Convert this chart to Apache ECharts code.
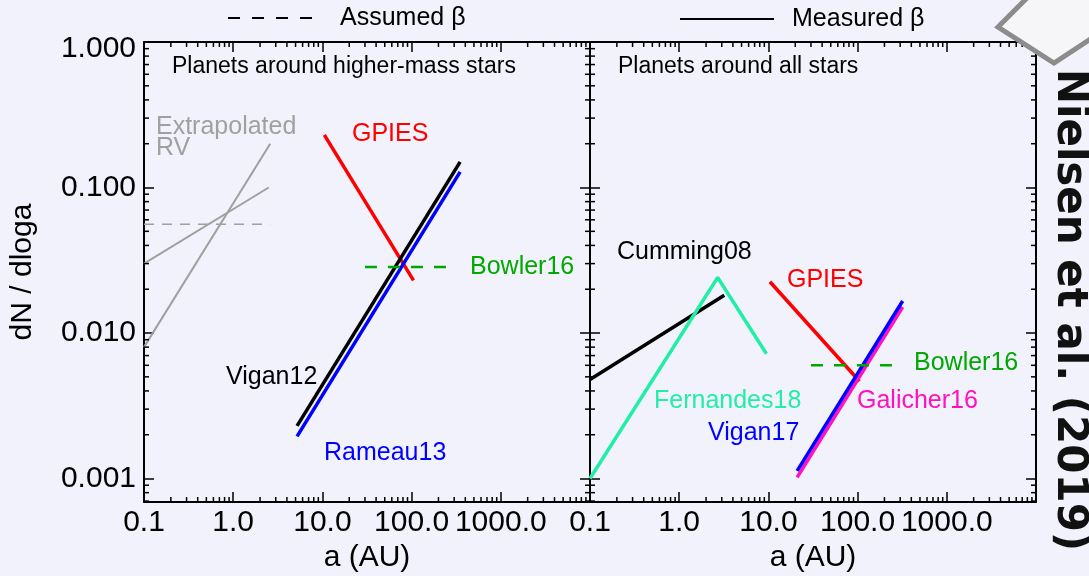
<!DOCTYPE html>
<html>
<head>
<meta charset="utf-8">
<script src="https://cdn.jsdelivr.net/npm/echarts@6/dist/echarts.min.js"></script>
<style>
  html, body { margin: 0; padding: 0; background: #f1f2fc; }
  #chart { width: 1089px; height: 576px; }
</style>
</head>
<body>
<div id="chart"></div>
<script>
// axis ranges and tick labels
const xRange = [0.1, 10000]
const yRange = [0.00069, 1]
const xTickValues = [0.1, 1, 10, 100, 1000]
const xTickLabels = ['0.1', '1.0', '10.0', '100.0', '1000.0']
const yTickValues = [0.001, 0.01, 0.1, 1]
const yTickLabels = ['0.001', '0.010', '0.100', '1.000']

// left panel: planets around higher-mass stars  [a (AU), dN/dloga]
const rvSteep = [[0.1, 0.0080], [2.6, 0.20]]
const rvShallow = [[0.1, 0.030], [2.5, 0.10]]
const rvAssumed = [[0.1, 0.056], [2.6, 0.056]]
const gpiesHigh = [[10.5, 0.23], [105, 0.023]]
const vigan12 = [[5.2, 0.0023], [350, 0.15]]
const rameau13 = [[5.2, 0.00195], [350, 0.128]]
const bowler16High = [[30, 0.0284], [300, 0.0284]]

// right panel: planets around all stars
const cumming08 = [[0.1, 0.0048], [3.2, 0.0182]]
const fernandes18 = [[0.1, 0.001], [2.7, 0.0241], [9.5, 0.0072]]
const gpiesAll = [[10.4, 0.0225], [105, 0.00466]]
const vigan17 = [[21, 0.00113], [320, 0.0166]]
const galicher16 = [[21, 0.00102], [320, 0.0151]]
const bowler16All = [[30, 0.0060], [300, 0.0060]]

const FONT = 'Liberation Sans'

// minor ticks 2..9 in every decade (axis decoration only)
const minorMult = [2, 3, 4, 5, 6, 7, 8, 9]
const xMinor = []
for (let k = -1; k <= 3; k++) minorMult.forEach(m => xMinor.push(m * Math.pow(10, k)))
const yMinor = []
for (let k = -4; k <= -1; k++) minorMult.forEach(m => {
  const v = m * Math.pow(10, k)
  if (v > yRange[0] && v < yRange[1]) yMinor.push(v)
})

const findLabel = (v, vals, labels) => {
  for (let i = 0; i < vals.length; i++) {
    if (Math.abs(v / vals[i] - 1) < 1e-6) return labels[i]
  }
  return ''
}

const myChart = echarts.init(document.getElementById('chart'))

const baseAxis = {
  type: 'log',
  logBase: 10,
  axisLine: {onZero: false, lineStyle: {color: '#000', width: 2}},
  axisTick: {inside: true, length: 10, lineStyle: {color: '#000', width: 1.5}},
  splitLine: {show: false},
}

const xAxisFor = (gi, pos) => Object.assign({}, baseAxis, {
  gridIndex: gi, position: pos, min: xRange[0], max: xRange[1],
  axisLabel: pos === 'bottom' ? {
    fontSize: 30, fontFamily: FONT, color: '#000', margin: 6,
    formatter: v => findLabel(v, xTickValues, xTickLabels)
  } : {show: false},
  name: pos === 'bottom' ? 'a (AU)' : '',
  nameLocation: 'middle',
  nameGap: 40,
  nameTextStyle: {fontSize: 30, fontFamily: FONT, color: '#000'}
})

const yAxisFor = (gi, pos, labels) => Object.assign({}, baseAxis, {
  gridIndex: gi, position: pos, min: yRange[0], max: yRange[1],
  axisLabel: labels ? {
    fontSize: 30, fontFamily: FONT, color: '#000', margin: 8,
    formatter: v => {
      const s = findLabel(v, yTickValues, yTickLabels)
      return s === '1.000' ? '{top|' + s + '}' : s
    },
    rich: {top: {fontSize: 30, fontFamily: FONT, color: '#000', padding: [14, 0, 0, 0]}}
  } : {show: false},
  name: labels ? 'dN / dloga' : '',
  nameLocation: 'middle',
  nameGap: 106,
  nameRotate: 90,
  nameTextStyle: {fontSize: 30, fontFamily: FONT, color: '#000'}
})

const line = (data, gi, color, width, dashed) => ({
  type: 'line', data: data, xAxisIndex: gi, yAxisIndex: gi,
  symbol: 'none', silent: true,
  lineStyle: {color: color, width: width, type: dashed ? dashed : 'solid'},
})

// flag 0 -> tick on the x axes, flag 1 -> tick on the y axes
const minorTicks = (gi) => ({
  type: 'custom', xAxisIndex: gi, yAxisIndex: gi, silent: true, clip: false, z: 5,
  data: xMinor.map(v => [v, yRange[0], 0]).concat(yMinor.map(v => [xRange[0], v, 1])),
  renderItem: (params, api) => {
    const xv = api.value(0), yv = api.value(1), flag = api.value(2)
    const st = {stroke: '#000', lineWidth: 1.5}
    if (flag === 0) {
      const b = api.coord([xv, yRange[0]]), t = api.coord([xv, yRange[1]])
      return {type: 'group', children: [
        {type: 'line', shape: {x1: b[0], y1: b[1], x2: b[0], y2: b[1] - 5}, style: st},
        {type: 'line', shape: {x1: t[0], y1: t[1], x2: t[0], y2: t[1] + 5}, style: st}
      ]}
    }
    const l = api.coord([xRange[0], yv]), r = api.coord([xRange[1], yv])
    return {type: 'group', children: [
      {type: 'line', shape: {x1: l[0], y1: l[1], x2: l[0] + 5, y2: l[1]}, style: st},
      {type: 'line', shape: {x1: r[0], y1: r[1], x2: r[0] - 5, y2: r[1]}, style: st}
    ]}
  }
})

const txt = (s, x, y, color, size, extra) => Object.assign({
  type: 'text', x: x, y: y, silent: true,
  style: {text: s, fill: color, fontSize: size, fontFamily: FONT, align: 'left', verticalAlign: 'middle'}
}, extra || {})

const option = {
  backgroundColor: '#f1f2fc',
  animation: false,
  grid: [
    {left: 144, top: 42, width: 446, height: 460, outerBoundsMode: 'none', containLabel: false},
    {left: 590, top: 42, width: 446, height: 460, outerBoundsMode: 'none', containLabel: false}
  ],
  xAxis: [xAxisFor(0, 'bottom'), xAxisFor(1, 'bottom'), xAxisFor(0, 'top'), xAxisFor(1, 'top')],
  yAxis: [yAxisFor(0, 'left', true), yAxisFor(1, 'left', false), yAxisFor(0, 'right', false), yAxisFor(1, 'right', false)],
  series: [
    line(rvAssumed, 0, '#a0a0a0', 1.5, [10, 8]),
    line(rvShallow, 0, '#a0a0a0', 2),
    line(rvSteep, 0, '#a0a0a0', 2),
    line(gpiesHigh, 0, '#ff0000', 3.5),
    line(vigan12, 0, '#000000', 3.5),
    line(rameau13, 0, '#0000ff', 3.5),
    line(bowler16High, 0, '#00a800', 2.5, [12, 11]),
    line(cumming08, 1, '#000000', 3.5),
    line(fernandes18, 1, '#22eea8', 3.5),
    line(gpiesAll, 1, '#ff0000', 3.5),
    line(galicher16, 1, '#ff10c0', 3.5),
    line(vigan17, 1, '#0000ff', 3.5),
    line(bowler16All, 1, '#00a800', 2.5, [12, 11]),
    minorTicks(0),
    minorTicks(1)
  ],
  graphic: [
    // legend at the top
    {type: 'line', silent: true, shape: {x1: 228, y1: 18, x2: 312, y2: 18},
      style: {stroke: '#000', lineWidth: 2, lineDash: [12, 12]}},
    txt('Assumed β', 340, 18, '#000', 25),
    {type: 'line', silent: true, shape: {x1: 680, y1: 19, x2: 774, y2: 19},
      style: {stroke: '#000', lineWidth: 2}},
    txt('Measured β', 792, 19, '#000', 25),
    // panel titles
    txt('Planets around higher-mass stars', 172, 67, '#000', 23),
    txt('Planets around all stars', 618, 67, '#000', 23),
    // left panel labels
    txt('Extrapolated', 156, 127, '#a0a0a0', 25),
    txt('RV', 156, 148, '#a0a0a0', 25),
    txt('GPIES', 352, 134, '#ff0000', 25),
    txt('Bowler16', 470, 267, '#00a800', 25),
    txt('Vigan12', 226, 377, '#000', 25),
    txt('Rameau13', 324, 453, '#0000ff', 25),
    // right panel labels
    txt('Cumming08', 617, 252, '#000', 25),
    txt('GPIES', 787, 280, '#ff0000', 25),
    txt('Bowler16', 914, 363, '#00a800', 25),
    txt('Fernandes18', 654, 401, '#22eea8', 25),
    txt('Galicher16', 857, 401, '#ff10c0', 25),
    txt('Vigan17', 708, 433, '#0000ff', 25),
    // corner badge and credit
    {type: 'polygon', silent: true, z: 10,
      shape: {points: [[998, 27], [1029, -4], [1095, -4], [1095, 36], [1054, 63]]},
      style: {fill: '#f6f6f8', stroke: '#8c8c8c', lineWidth: 5}},
    {type: 'text', x: 1069, y: 310, rotation: -Math.PI / 2, silent: true, z: 10,
      style: {text: 'Nielsen et al. (2019)', fill: '#111', fontSize: 42, fontWeight: 'bold',
        fontFamily: 'DejaVu Sans', align: 'center', verticalAlign: 'middle'}}
  ]
}

myChart.setOption(option)
window.addEventListener('resize', () => {
  myChart.resize()
})
</script>
</body>
</html>
